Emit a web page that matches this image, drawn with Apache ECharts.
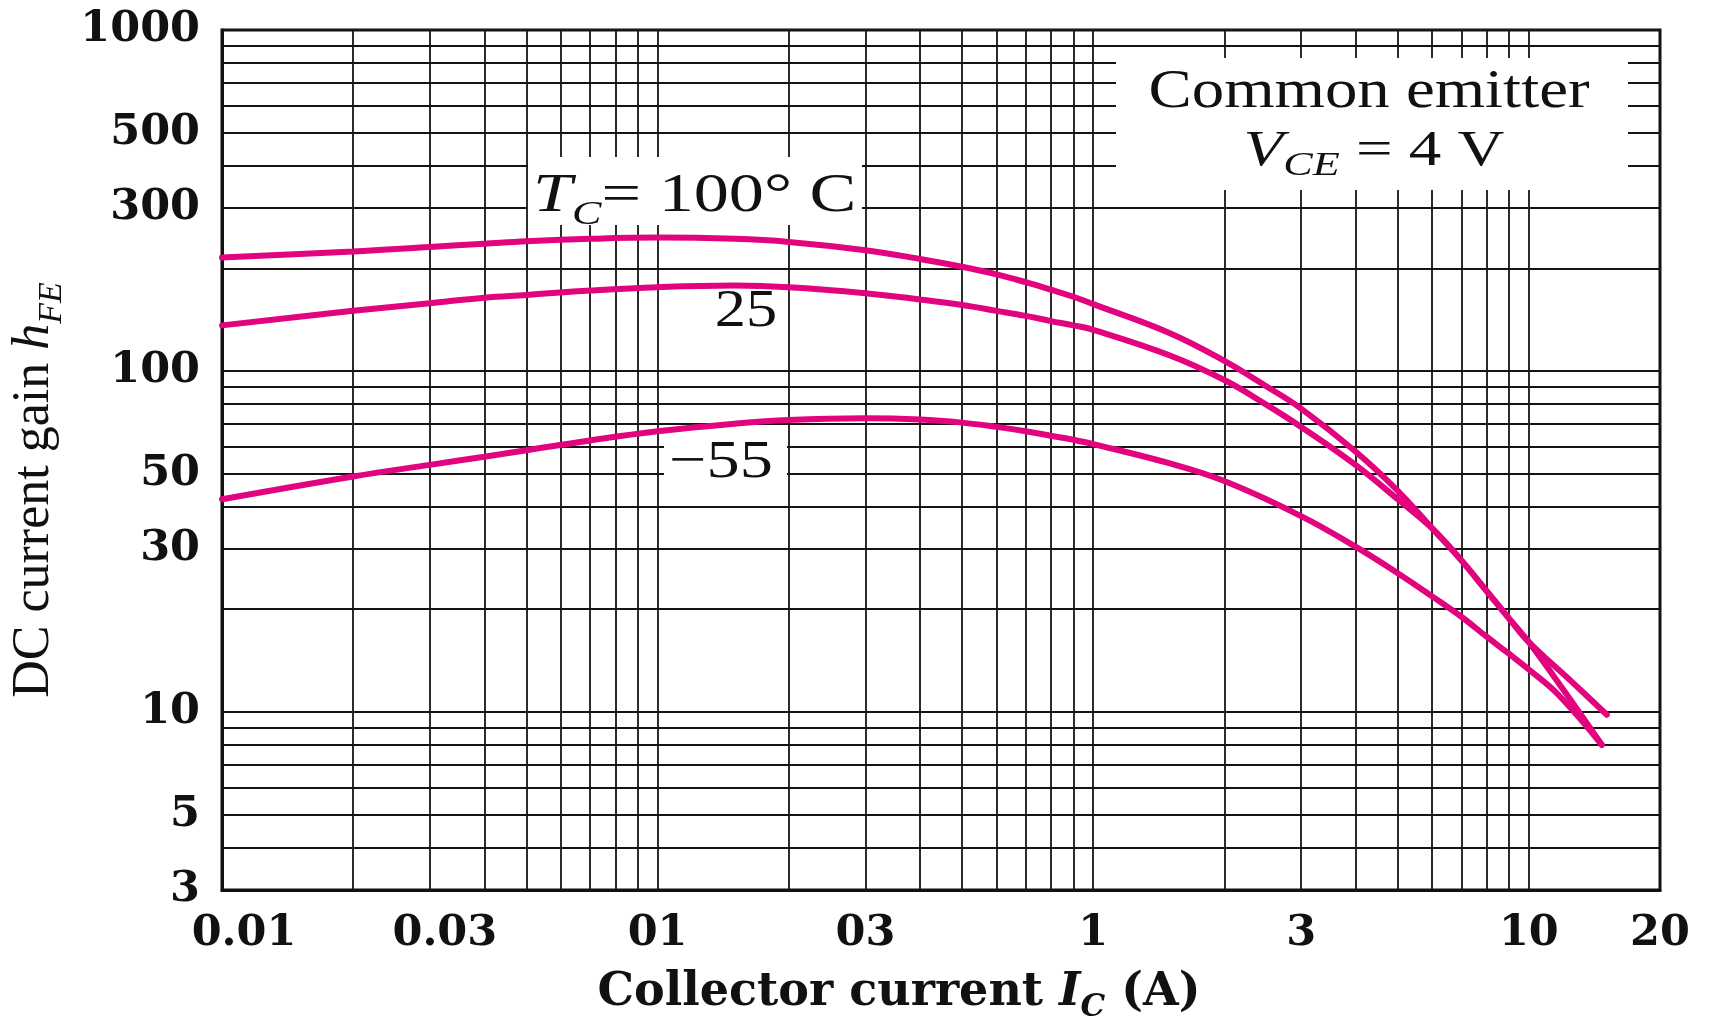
<!DOCTYPE html>
<html>
<head>
<meta charset="utf-8">
<script src="https://cdn.jsdelivr.net/npm/echarts@6/dist/echarts.min.js"></script>
<style>
html,body{margin:0;padding:0;background:#fff;}
#chart{width:1711px;height:1020px;}
</style>
</head>
<body>
<div id="chart"></div>
<script>
// ---------- data ----------
const ic100  = [0.01,0.02,0.03,0.04,0.05,0.07,0.1,0.15,0.2,0.3,0.4,0.5,0.6,0.7,0.8,0.9,1,1.5,2,2.5,3,4,5,6,7,8,9,10,12,14.7];
const hfe100 = [215,224,231,236,240,244,246,244,239,226,213,202,192,182,173,165,157,129,107,90,77.5,58,44.5,34.5,27.8,22.6,18.8,16,11.6,8.0];

const ic25   = [0.01,0.02,0.03,0.04,0.05,0.07,0.1,0.15,0.2,0.3,0.4,0.5,0.6,0.7,0.8,0.9,1,1.5,2,2.5,3,4,5,6,7,8,9,10,12.5,15.1];
const hfe25  = [136,150,158,164,167,172,176,178,176,169,162,156,150,145,140,136,132,111,94,79.5,68.5,53,42,34.5,27.8,22.6,18.8,16,12.3,9.8];

const icM55  = [0.01,0.02,0.03,0.04,0.05,0.07,0.1,0.15,0.2,0.3,0.4,0.5,0.6,0.7,0.8,0.9,1,1.5,2,3,4,5,6,7,8,9,10,11.7,14.7];
const hfeM55 = [42,49,53,56,58.5,62.5,66.5,70,71.8,72.6,72,70.5,68.5,66.5,64.5,62.8,61,53.5,47.5,37.5,30.5,25.5,21.8,19,16.6,14.8,13.3,11.2,8.0];

// grid lines (log paper) and tick labels
const xGridValues = [0.01,0.02,0.03,0.04,0.05,0.06,0.07,0.08,0.09,
                     0.1,0.2,0.3,0.4,0.5,0.6,0.7,0.8,0.9,
                     1,2,3,4,5,6,7,8,9,10,20];
const yGridValues = [3,4,5,6,7,8,9,10,20,30,40,50,60,70,80,90,
                     100,200,300,400,500,600,700,800,900,1000];
const xTickValues = [0.01,0.03,0.1,0.3,1,3,10,20];
const xTickLabels = ['0.01','0.03','01','03','1','3','10','20'];
const yTickValues = [3,5,10,30,50,100,300,500,1000];
const yTickLabels = ['3','5','10','30','50','100','300','500','1000'];

// ---------- chart ----------
const CURVE = '#E2037F';
const INK = '#111111';
const SERIF = 'Liberation Serif';
const WIDE = 'DejaVu Serif';

function pair(xs, ys) { return xs.map((x, i) => [x, ys[i]]); }
function findIdx(vals, v) {
  return vals.findIndex(t => Math.abs(Math.log10(t) - Math.log10(v)) < 1e-6);
}
// rich styles: main text top aligned, subscript bottom aligned and dropped
function subRich(fam, F, S, drop, colorKey, weight) {
  const subL = F / 2 + drop + S / 2;
  const c = {fontWeight: weight || 'normal'};
  c[colorKey] = INK;
  return {
    n: Object.assign({fontFamily: fam, fontSize: F, lineHeight: F, verticalAlign: 'top'}, c),
    i: Object.assign({fontFamily: fam, fontSize: F, fontStyle: 'italic', lineHeight: F, verticalAlign: 'top'}, c),
    s: Object.assign({fontFamily: fam, fontSize: S, fontStyle: 'italic', lineHeight: Math.max(subL, F), verticalAlign: 'bottom'}, c)
  };
}

const chart = echarts.init(document.getElementById('chart'), null, {width: 1711, height: 1020});

const option = {
  animation: false,
  backgroundColor: '#ffffff',
  grid: {
    left: 222, right: 51, top: 30, bottom: 130,
    containLabel: false, outerBoundsMode: 'none',
    show: true, borderColor: INK, borderWidth: 3, backgroundColor: 'transparent'
  },
  xAxis: {
    type: 'log', logBase: 10, min: 0.01, max: 20,
    axisLine: {show: true, lineStyle: {color: INK, width: 3}},
    axisTick: {show: false, customValues: xGridValues},
    splitLine: {show: true, lineStyle: {color: '#151515', width: 1.8}},
    axisLabel: {
      customValues: xTickValues,
      fontFamily: WIDE, fontWeight: 'bold', fontSize: 43, color: INK, margin: 22,
      formatter: function (v) {
        const i = findIdx(xTickValues, v);
        const t = i >= 0 ? xTickLabels[i] : '';
        if (i === 0) return '{a|' + t + '}';
        if (i === 1) return '{b|' + t + '}';
        return t;
      },
      rich: {
        a: {fontFamily: WIDE, fontWeight: 'bold', fontSize: 43, color: INK, padding: [0, 0, 0, 44]},
        b: {fontFamily: WIDE, fontWeight: 'bold', fontSize: 43, color: INK, padding: [0, 0, 0, 30]}
      }
    },
    name: '{n|Collector current }{i|I}{s|C}{n| (A)}',
    nameLocation: 'middle',
    nameGap: 80,
    nameTextStyle: {
      color: INK,
      padding: [0, 84, 0, 0],
      rich: subRich(WIDE, 46, 31, 15, 'color', 'bold')
    }
  },
  yAxis: {
    type: 'log', logBase: 10, min: 3, max: 1000,
    axisLine: {show: true, lineStyle: {color: INK, width: 3}},
    axisTick: {show: false, customValues: yGridValues},
    splitLine: {show: true, lineStyle: {color: '#151515', width: 1.8}},
    axisLabel: {
      customValues: yTickValues,
      fontFamily: WIDE, fontWeight: 'bold', fontSize: 43, color: INK, margin: 22,
      formatter: function (v) {
        const i = findIdx(yTickValues, v);
        return i >= 0 ? yTickLabels[i] : '';
      }
    },
    name: '{n|DC current gain }{i|h}{s|FE}',
    nameLocation: 'middle',
    nameGap: 150,
    nameTextStyle: {
      color: INK,
      padding: [0, 60, 0, 0],
      rich: subRich(SERIF, 52, 34, 18, 'color')
    }
  },
  graphic: {
    elements: [
      // white boxes behind the annotations
      {type: 'rect', z: 1, shape: {x: 528, y: 157, width: 334, height: 68}, style: {fill: '#fff'}},
      {type: 'rect', z: 1, shape: {x: 1116, y: 58, width: 512, height: 132}, style: {fill: '#fff'}},
      {type: 'rect', z: 1, shape: {x: 664, y: 440, width: 123, height: 42}, style: {fill: '#fff'}},
      // annotations
      {type: 'text', z: 10, x: 533, y: 170, scaleX: 1.3,
        style: {text: '{i|T}{s|C}{n|= 100° C}', fill: INK, align: 'left', verticalAlign: 'top',
                rich: subRich(SERIF, 54, 34, 18, 'fill')}},
      {type: 'text', z: 10, x: 1369, y: 66, scaleX: 1.2,
        style: {text: '{n|Common emitter}', fill: INK, align: 'center', verticalAlign: 'top',
                rich: subRich(SERIF, 54, 34, 18, 'fill')}},
      {type: 'text', z: 10, x: 1374, y: 127, scaleX: 1.3,
        style: {text: '{i|V}{s|CE}{n| = 4 V}', fill: INK, align: 'center', verticalAlign: 'top',
                rich: subRich(SERIF, 50, 34, 14, 'fill')}},
      {type: 'text', z: 10, x: 746, y: 286, scaleX: 1.2,
        style: {text: '{n|25}', fill: INK, align: 'center', verticalAlign: 'top',
                rich: subRich(SERIF, 52, 34, 18, 'fill')}},
      {type: 'text', z: 10, x: 721, y: 437, scaleX: 1.25,
        style: {text: '{n|\u221255}', fill: INK, align: 'center', verticalAlign: 'top',
                rich: subRich(SERIF, 53, 34, 18, 'fill')}}
    ]
  },
  series: [
    {name: '100', type: 'line', data: pair(ic100, hfe100), symbol: 'none', smooth: 0.4, z: 3,
      lineStyle: {color: CURVE, width: 6, cap: 'round'}},
    {name: '25', type: 'line', data: pair(ic25, hfe25), symbol: 'none', smooth: 0.4, z: 3,
      lineStyle: {color: CURVE, width: 6, cap: 'round'}},
    {name: '-55', type: 'line', data: pair(icM55, hfeM55), symbol: 'none', smooth: 0.4, z: 3,
      lineStyle: {color: CURVE, width: 6, cap: 'round'}}
  ]
};
chart.setOption(option);
</script>
</body>
</html>
